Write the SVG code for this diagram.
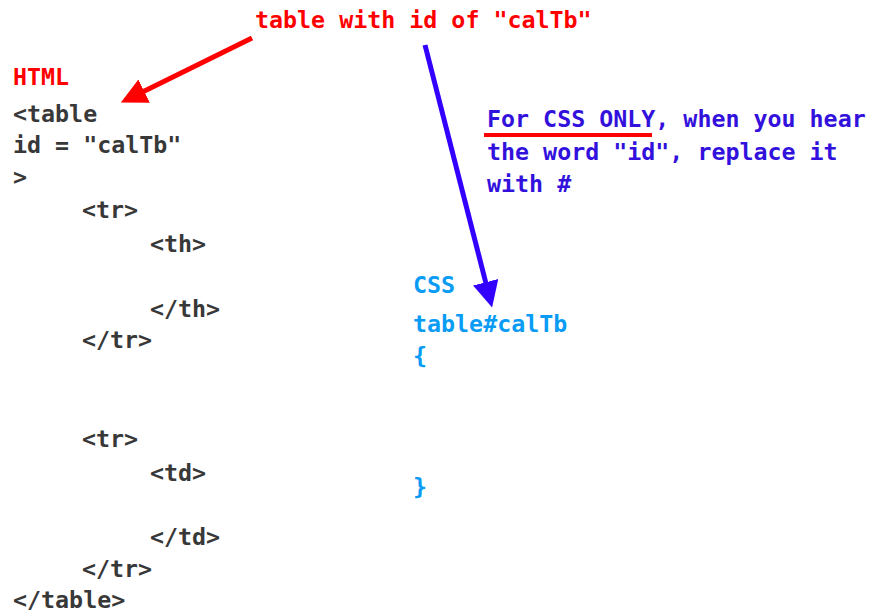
<svg xmlns="http://www.w3.org/2000/svg" width="872" height="615" viewBox="0 0 872 615">
<style>
text{font-family:"DejaVu Sans Mono","Liberation Mono",monospace;font-weight:bold;font-size:23.3px;white-space:pre}
.red{fill:#ff0000}
.code{fill:#383838}
.note{fill:#3311dd}
.css{fill:#0a9cf5}
</style>
<defs>
<marker id="headRed" viewBox="0 0 10 10" refX="0.5" refY="5" markerWidth="5.2" markerHeight="5.2" markerUnits="strokeWidth" orient="auto">
<path d="M0,0 L10,5 L0,10 Z" fill="#ff0000"/>
</marker>
<marker id="headBlue" viewBox="0 0 10 10" refX="0.5" refY="5" markerWidth="5.2" markerHeight="5.2" markerUnits="strokeWidth" orient="auto">
<path d="M0,0 L10,5 L0,10 Z" fill="#3300ff"/>
</marker>
</defs>
<rect width="872" height="615" fill="#ffffff"/>
<g id="title"><text class="red" x="255" y="28">table with id of "calTb"</text></g>
<g id="html">
<text class="red" x="13" y="85">HTML</text>
<text class="code" x="13" y="122">&lt;table</text>
<text class="code" x="13" y="153">id = "calTb"</text>
<text class="code" x="13" y="185">&gt;</text>
<text class="code" x="82" y="218">&lt;tr&gt;</text>
<text class="code" x="150" y="252">&lt;th&gt;</text>
<text class="code" x="150" y="317">&lt;/th&gt;</text>
<text class="code" x="82" y="348">&lt;/tr&gt;</text>
<text class="code" x="82" y="447">&lt;tr&gt;</text>
<text class="code" x="150" y="481">&lt;td&gt;</text>
<text class="code" x="150" y="545">&lt;/td&gt;</text>
<text class="code" x="82" y="577">&lt;/tr&gt;</text>
<text class="code" x="13" y="608">&lt;/table&gt;</text>
</g>
<g id="note">
<text class="note" x="487" y="127">For CSS ONLY, when you hear</text>
<text class="note" x="487" y="160">the word "id", replace it</text>
<text class="note" x="487" y="192">with #</text>
<line x1="484" y1="135" x2="652" y2="135" stroke="#ff0000" stroke-width="4"/>
</g>
<g id="css">
<text class="css" x="413" y="293">CSS</text>
<text class="css" x="413" y="332">table#calTb</text>
<text class="css" x="413" y="364">{</text>
<text class="css" x="413" y="495">}</text>
</g>
<g id="connectors">
<line x1="252" y1="38" x2="143" y2="91.7" stroke="#ff0000" stroke-width="5" marker-end="url(#headRed)"/>
<line x1="425" y1="45" x2="486" y2="283.5" stroke="#3300ff" stroke-width="5" marker-end="url(#headBlue)"/>
</g>
</svg>
